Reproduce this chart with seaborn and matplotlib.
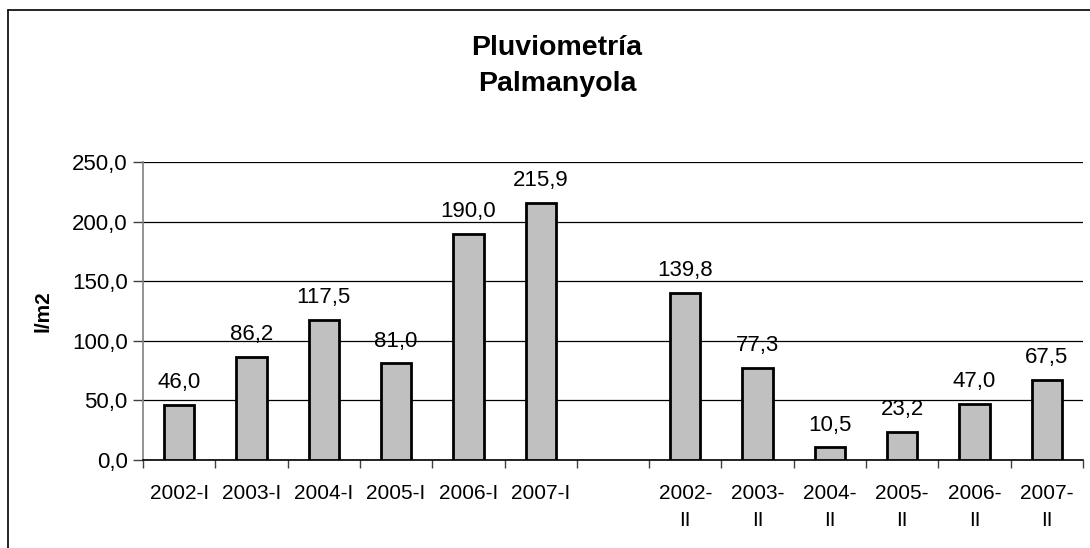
import matplotlib
matplotlib.use("Agg")
import matplotlib.pyplot as plt
import seaborn as sns
import pandas as pd
import numpy as np
from matplotlib.lines import Line2D
from matplotlib.ticker import FuncFormatter, FixedLocator

categories = ["2002-I", "2003-I", "2004-I", "2005-I", "2006-I", "2007-I", " ",
              "2002-\nII", "2003-\nII", "2004-\nII", "2005-\nII", "2006-\nII", "2007-\nII"]
bar_categories = ["2002-I", "2003-I", "2004-I", "2005-I", "2006-I", "2007-I",
                  "2002-\nII", "2003-\nII", "2004-\nII", "2005-\nII", "2006-\nII", "2007-\nII"]
values = [46.0, 86.2, 117.5, 81.0, 190.0, 215.9, 139.8, 77.3, 10.5, 23.2, 47.0, 67.5]
yticks = [0, 50, 100, 150, 200, 250]
title = "Pluviometría\nPalmanyola"
ylabel = "l/m2"

sns.set_style("white")
plt.rcParams["font.family"] = ["Liberation Sans", "DejaVu Sans"]
plt.rcParams["text.color"] = "black"
plt.rcParams["axes.labelcolor"] = "black"
plt.rcParams["xtick.color"] = "black"
plt.rcParams["ytick.color"] = "black"

df = pd.DataFrame({"cat": bar_categories, "val": values})

fig = plt.figure(figsize=(10.9, 5.48), dpi=100)
ax = fig.add_axes([143 / 1090, 1 - 460 / 548, (1083 - 143) / 1090, (460 - 162) / 548])

sns.barplot(data=df, x="cat", y="val", order=categories, ax=ax,
            color="#C0C0C0", saturation=1, width=0.42,
            edgecolor="black", linewidth=2.0, zorder=3)

ax.set_xlim(-0.5, len(categories) - 0.5)
ax.set_ylim(0, 250)
ax.set_yticks(yticks)
ax.yaxis.set_major_formatter(FuncFormatter(lambda v, p: f"{v:.1f}".replace(".", ",")))
ax.grid(axis="y", color="black", linewidth=0.9, zorder=0)
ax.set_axisbelow(True)

# x ticks: boundary ticks (major, no label) and centered labels (minor)
n = len(categories)
ax.xaxis.set_major_locator(FixedLocator(np.arange(-0.5, n, 1.0)))
ax.xaxis.set_major_formatter(FuncFormatter(lambda v, p: ""))
ax.set_xticks(np.arange(n), minor=True)
ax.set_xticklabels(categories, minor=True, fontsize=15, linespacing=1.55, va="top")
ax.tick_params(axis="x", which="major", direction="out", length=6, width=1, color="#404040", bottom=True)
ax.tick_params(axis="x", which="minor", length=0, pad=17)
ax.tick_params(axis="y", direction="out", length=7, width=1, color="#404040", left=True,
               labelsize=16, pad=4)

for s in ["top", "right"]:
    ax.spines[s].set_visible(False)
ax.spines["left"].set_color("#808080")
ax.spines["left"].set_linewidth(1.2)
ax.spines["bottom"].set_color("black")
ax.spines["bottom"].set_linewidth(1.2)

ax.set_xlabel("")
ax.set_ylabel(ylabel, fontsize=15, fontweight="bold", labelpad=14)

# data labels
for c, v in zip(bar_categories, values):
    xi = categories.index(c)
    ax.annotate(f"{v:.1f}".replace(".", ","), (xi, v), xytext=(0, 12.2),
                textcoords="offset points", ha="center", va="baseline", fontsize=16)

fig.text(557 / 1090, 1 - 66 / 548, title, ha="center", va="center",
         fontsize=20.5, fontweight="bold", linespacing=1.5)

# outer chart border (left and top visible)
fig.add_artist(Line2D([7.5 / 1090, 7.5 / 1090], [0, 1 - 9.5 / 548], transform=fig.transFigure,
                      color="black", linewidth=1.2))
fig.add_artist(Line2D([7.5 / 1090, 1], [1 - 9.5 / 548, 1 - 9.5 / 548], transform=fig.transFigure,
                      color="black", linewidth=1.2))

fig.savefig("out.png", dpi=100)
